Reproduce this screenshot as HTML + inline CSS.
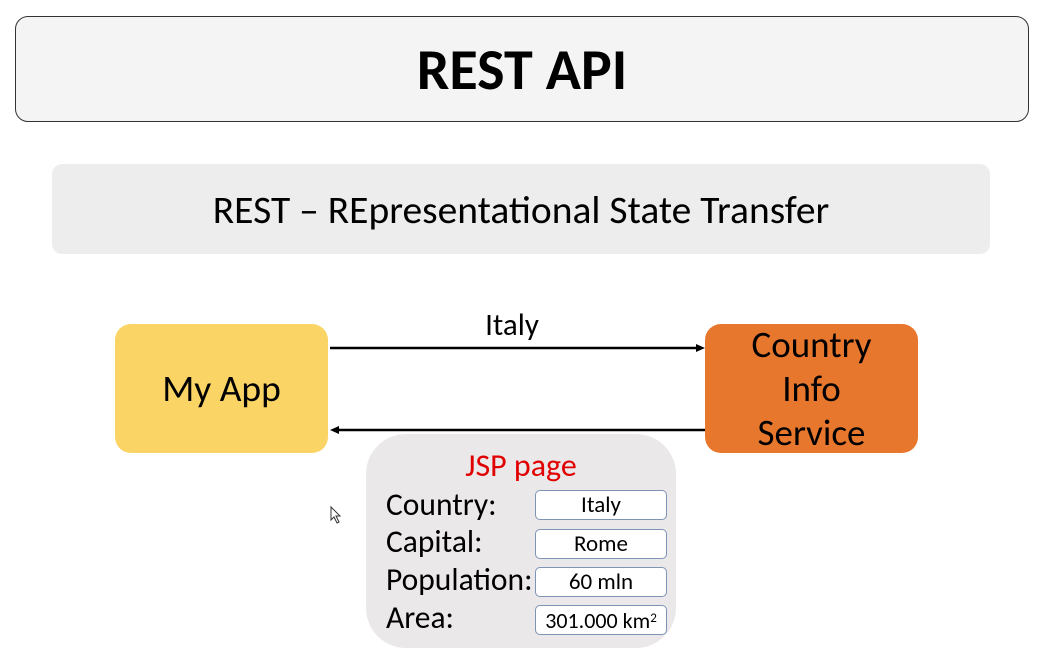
<!DOCTYPE html>
<html><head><meta charset="utf-8"><style>
body{margin:0;width:1046px;height:672px;background:#fff;position:relative;overflow:hidden;font-family:"Carlito","Liberation Sans",sans-serif;color:#000}
.a{position:absolute;box-sizing:border-box}
.c{display:flex;align-items:center;justify-content:center;text-align:center}
.lab{position:absolute;left:386px;font-size:31.5px;line-height:30px}
.f{position:absolute;left:535px;width:132px;height:30px;border:1px solid #7f93b5;border-radius:5px;background:#fff;box-sizing:border-box;font-size:23px;display:flex;align-items:center;justify-content:center}
</style></head><body>
<div class="a c" style="left:15px;top:16px;width:1014px;height:106px;border:1.5px solid #333;border-radius:13px;background:#f4f4f4;font-weight:bold;font-size:58px">REST API</div>
<div class="a c" style="left:52px;top:164px;width:938px;height:90px;border-radius:10px;background:#eeeded;font-size:39.5px">REST – REpresentational State Transfer</div>
<div class="a c" style="left:115px;top:324px;width:213px;height:129px;border-radius:16px;background:#fad465;font-size:37.5px">My App</div>
<div class="a c" style="left:705px;top:324px;width:213px;height:129px;border-radius:16px;background:#e8772e;font-size:37px;line-height:44px">Country<br>Info<br>Service</div>
<svg class="a" style="left:0;top:0" width="1046" height="672">
<line x1="330" y1="348" x2="698" y2="348" stroke="#000" stroke-width="2.5"/>
<polygon points="705,348 696,344 696,352" fill="#000"/>
<line x1="337" y1="430" x2="705" y2="430" stroke="#000" stroke-width="2.5"/>
<polygon points="330,430 339,426 339,434" fill="#000"/>
<path d="M331 507 L331 520 L334 517 L337 523 L339 522 L336 516 L340 516 Z" fill="#fff" stroke="#333" stroke-width="1"/>
</svg>
<div class="a" style="left:432px;top:306px;width:160px;text-align:center;font-size:31px">Italy</div>
<div class="a" style="left:366px;top:434px;width:310px;height:214px;border-radius:40px;background:#ebe8e9"></div>
<div class="a" style="left:366px;top:446px;width:310px;text-align:center;font-size:32px;color:#e00000">JSP page</div>
<div class="lab" style="top:490px">Country:</div>
<div class="lab" style="top:527px">Capital:</div>
<div class="lab" style="top:565px">Population:</div>
<div class="lab" style="top:603px">Area:</div>
<div class="f" style="top:490px">Italy</div>
<div class="f" style="top:529px">Rome</div>
<div class="f" style="top:567px">60 mln</div>
<div class="f" style="top:605px;font-size:22px">301.000 km<sup style="font-size:13px;position:relative;top:-2px">2</sup></div>
</body></html>
